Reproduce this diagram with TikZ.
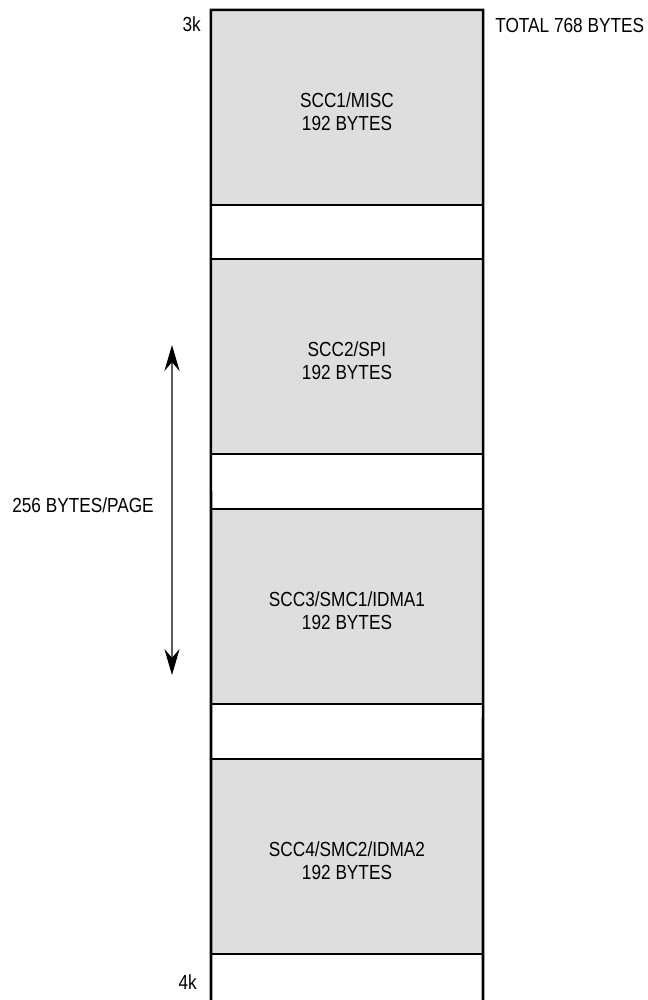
\documentclass[tikz,border=0pt]{standalone}
\usepackage{fontspec}
\setmainfont{Liberation Sans}[FakeStretch=0.845]
\usetikzlibrary{arrows.meta, positioning}

\tikzset{
  memblock/.style={draw=black, line width=1.6pt, fill=black!13, inner sep=0pt, outer sep=0pt,
    minimum width=6.8cm, minimum height=4.875cm},
  blocktext/.style={align=center, font=\fontsize{14.5pt}{16.5pt}\selectfont, inner sep=0pt},
  sidetext/.style={font=\fontsize{14.5pt}{17pt}\selectfont, inner sep=0pt},
}

\begin{document}
\begin{tikzpicture}[x=0.025cm, y=-0.025cm]
  \useasboundingbox (0,0) rectangle (647,1000);
  % gray parameter blocks, one per 256-byte page
  \node[memblock] (b1) at (347,107.5) {};
  \node[memblock] (b2) at (347,356.5) {};
  \node[memblock] (b3) at (347,606.5) {};
  \node[memblock] (b4) at (347,856.5) {};
  \node[blocktext] (t1) at (347,111.5) {SCC1/MISC\\192 BYTES};
  \node[blocktext] (t2) at (347,360.5) {SCC2/SPI\\192 BYTES};
  \node[blocktext] (t3) at (347,610.5) {SCC3/SMC1/IDMA1\\192 BYTES};
  \node[blocktext] (t4) at (347,860.5) {SCC4/SMC2/IDMA2\\192 BYTES};
  % outer frame, open at the bottom
  \coordinate (bl) at (211,1000);
  \coordinate (br) at (483,1000);
  \draw[line width=1.8pt] (bl) -- (b1.north west) -- (b1.north east) -- (br);
  % address marks
  \node[sidetext, anchor=east] (top) at (201,24) {3k};
  \node[sidetext, anchor=east] (bot) at (197,982) {4k};
  \node[sidetext, anchor=west] (total) at (495,25) {TOTAL 768 BYTES};
  % page size
  \coordinate (pa) at (172,345);
  \coordinate (pb) at (172,675);
  \draw[gray!70!black, line width=0.9pt,
    {Stealth[black, length=0.65cm, width=0.38cm, inset=0.22cm]}-{Stealth[black, length=0.65cm, width=0.38cm, inset=0.22cm]}]
    (pa) -- (pb);
  \node[sidetext, anchor=west] (page) at (12,505) {256 BYTES/PAGE};
\end{tikzpicture}
\end{document}
